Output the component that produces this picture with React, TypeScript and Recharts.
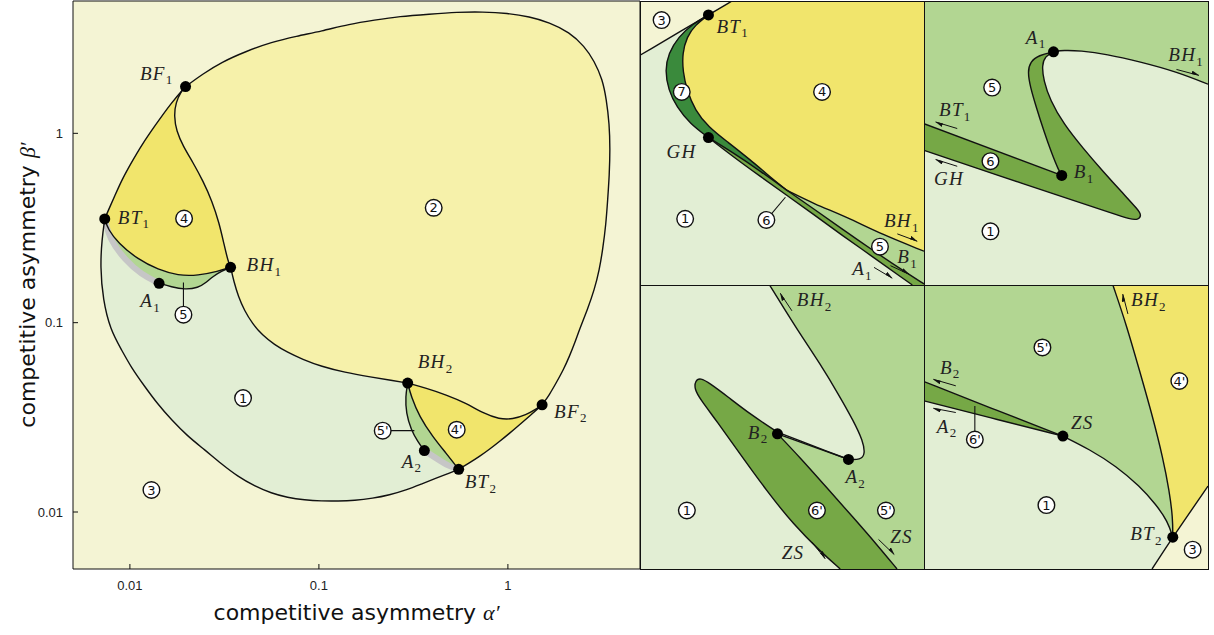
import React from "react";
import { ComposedChart, Line, Scatter, XAxis, YAxis } from "recharts";

type P = [number, number];
type Tone = "c1" | "c2" | "c3" | "c4" | "c5" | "c6" | "c7";

const PALETTE: Record<Tone, string> = {
  c1: "#e2eed4", // region 1
  c2: "#f6f1aa", // region 2
  c3: "#f4f4d4", // region 3
  c4: "#f1e56c", // region 4
  c5: "#b2d692", // region 5
  c6: "#76a846", // region 6
  c7: "#3a8a3c", // region 7
};
const GRAY = "#c6c6c6";
const INK = "#111";
const SANS = "'DejaVu Sans', sans-serif";
const TICK_FONT = "'Liberation Sans', Arial, sans-serif";
const SERIF = "'Liberation Serif', 'DejaVu Serif', serif";

// ---------- main diagram: alpha' vs beta' (log-log) ----------
const TICKS = [0.01, 0.1, 1];
const DOMAIN: [number, number] = [0.005, 5];

const BT1: P = [0.00736, 0.353];
const BF1: P = [0.0197, 1.767];
const BH1: P = [0.0341, 0.196];
const A1: P = [0.01427, 0.1614];
const BH2: P = [0.295, 0.048];
const BF2: P = [1.517, 0.0368];
const A2: P = [0.3615, 0.0211];
const BT2: P = [0.549, 0.0168];

const OUTER_LOW: P[] = [BT1, [0.00711, 0.2749], [0.00697, 0.198], [0.0072, 0.1323], [0.00788, 0.0918], [0.00902, 0.072],
  [0.01018, 0.0578], [0.01198, 0.046], [0.01398, 0.0373], [0.01658, 0.0307], [0.02015, 0.0252], [0.0249, 0.0213],
  [0.0305, 0.01795], [0.0374, 0.01537], [0.0456, 0.01373], [0.0561, 0.01256], [0.0681, 0.01193], [0.0841, 0.01157],
  [0.1031, 0.01143], [0.1264, 0.01143], [0.1541, 0.0115], [0.1927, 0.01181], [0.236, 0.0123], [0.2893, 0.01307],
  [0.3486, 0.01406], [0.4171, 0.01508], [0.4786, 0.0159], BT2];
const BT2_BF2: P[] = [BT2, [0.6256, 0.01816], [0.7067, 0.01962], [0.798, 0.02141], [0.9016, 0.02355], [1.018, 0.026],
  [1.15, 0.02886], [1.315, 0.0324], BF2];
const BF2_BF1: P[] = [BF2, [1.658, 0.0416], [1.799, 0.048], [1.967, 0.0564], [2.115, 0.0663], [2.262, 0.0784],
  [2.389, 0.0918], [2.634, 0.1172], [2.869, 0.1495], [3.049, 0.1907], [3.175, 0.2434], [3.301, 0.33], [3.373, 0.447],
  [3.443, 0.607], [3.473, 0.823], [3.443, 1.116], [3.321, 1.513], [3.162, 1.931], [2.869, 2.404], [2.54, 2.886],
  [2.115, 3.422], [1.658, 3.853], [1.3, 4.135], [0.994, 4.314], [0.736, 4.383], [0.54, 4.367], [0.3843, 4.262],
  [0.2667, 4.145], [0.1967, 3.963], [0.145, 3.774], [0.1031, 3.465], [0.076, 3.261], [0.0561, 3.03], [0.04135, 2.716],
  [0.0305, 2.375], [0.0242, 2.052], BF1];
const BF1_BT1: P[] = [BF1, [0.01658, 1.453], [0.01353, 1.093], [0.0116, 0.8745], [0.01018, 0.6998], [0.00909, 0.5708],
  [0.00831, 0.4661], [0.00772, 0.396], BT1];
const BF1_BH1: P[] = [BF1, [0.01873, 1.674], [0.01747, 1.453], [0.01713, 1.235], [0.01762, 1.028], [0.01912, 0.8566],
  [0.0216, 0.6998], [0.0244, 0.5593], [0.02722, 0.4383], [0.02965, 0.337], [0.0315, 0.2587], [0.03307, 0.211], BH1];
const BH1_BT1: P[] = [BH1, [0.02929, 0.1868], [0.02295, 0.1773], [0.01799, 0.1773], [0.0141, 0.1907], [0.01105, 0.2154],
  [0.00866, 0.2641], [0.00767, 0.3105], BT1];
const A1_BH1: P[] = [A1, [0.01658, 0.1545], [0.0195, 0.1495], [0.02295, 0.1526], [0.0254, 0.1634], [0.02755, 0.1758],
  [0.0305, 0.1868], BH1];
const BT1_A1: P[] = [BT1, [0.00782, 0.2749], [0.00939, 0.2154], [0.0115, 0.1795], A1];
const BH1_BH2: P[] = [BH1, [0.0355, 0.1648], [0.0375, 0.1373], [0.0404, 0.1157], [0.0445, 0.0988], [0.0502, 0.0859],
  [0.0582, 0.0765], [0.0681, 0.0698], [0.0818, 0.0641], [0.1031, 0.0587], [0.1364, 0.0547], [0.1896, 0.0516],
  [0.2419, 0.0496], BH2];
const BH2_BF2: P[] = [BH2, [0.3691, 0.0451], [0.471, 0.0416], [0.601, 0.0376], [0.736, 0.0333], [0.9016, 0.0309],
  [1.06, 0.0309], [1.248, 0.0326], [1.41, 0.0349], BF2];
const BH2_BT2: P[] = [BH2, [0.3075, 0.0408], [0.3402, 0.0319], [0.4, 0.025], [0.471, 0.02045], BT2];
const BH2_A2: P[] = [BH2, [0.287, 0.0408], [0.2893, 0.0333], [0.3075, 0.0272], [0.3333, 0.02355], A2];
const A2_BT2: P[] = [A2, [0.4171, 0.01923], [0.49, 0.01737], BT2];

const MAIN_MARKS = [
  { id: "BF1", at: BF1, name: "BF", sub: "1" },
  { id: "BT1", at: BT1, name: "BT", sub: "1" },
  { id: "BH1", at: BH1, name: "BH", sub: "1" },
  { id: "A1", at: A1, name: "A", sub: "1" },
  { id: "BH2", at: BH2, name: "BH", sub: "2" },
  { id: "BF2", at: BF2, name: "BF", sub: "2" },
  { id: "A2", at: A2, name: "A", sub: "2" },
  { id: "BT2", at: BT2, name: "BT", sub: "2" },
];
const MAIN_CIRCLES = [
  { n: "1", at: [0.0397, 0.04] as P },
  { n: "2", at: [0.405, 0.4045] as P },
  { n: "3", at: [0.013, 0.01307] as P },
  { n: "4", at: [0.01935, 0.355] as P },
  { n: "5", at: [0.0192, 0.1102] as P },
  { n: "4'", at: [0.536, 0.0272] as P },
  { n: "5'", at: [0.2176, 0.0269] as P },
];
const MAIN_LEADERS: P[][] = [
  [[0.0192, 0.1102], [0.0192, 0.1628]],
  [[0.2176, 0.0269], [0.32, 0.0269]],
];

// label placement relative to each marked point (px): dx, dy, anchor
const TAG_POS: Record<string, [number, number, string]> = {
  BF1: [-12, -7, "end"], BT1: [13, 5, "start"], BH1: [16, 4, "start"], A1: [2, 24, "end"],
  BH2: [10, -15, "start"], BF2: [12, 13, "start"], A2: [-2, 17, "end"], BT2: [6, 19, "start"],
  aBT1: [8, 18, "start"], aGH: [-12, 20, "end"], bA1: [-7, -8, "end"], bB1: [12, 3, "start"],
  cB2: [-9, 5, "end"], cA2: [-3, 24, "start"], dZS: [8, -7, "start"], dBT2: [-10, 3, "end"],
};

// ---------- zoomed panels (panel units 0..100) ----------
// panel A: around BT1
const A_BT1: P = [24.1, 95.1];
const A_GH: P = [24.1, 51.9];
const A_P: P = [51.8, 33.3];
const A_EDGE3: P[] = [[0, 80.9], A_BT1, [32.4, 100]];
const A_YEL_UP: P[] = [A_BT1, [19.4, 91.5], [16.5, 87.4], [14.9, 81.5], [15.1, 75.1], [16.5, 68.6], [19.4, 61.5],
  [24.1, 55.6], [30.8, 50.4], [38.8, 44.1], [45.9, 38.0], A_P];
const A_YEL_LOW: P[] = [A_P, [61.2, 28.6], [72.9, 23.9], [84.7, 18.0], [100, 11.9]];
const A_OUTER7: P[] = [A_BT1, [18.8, 92.1], [13.5, 87.4], [10.0, 81.5], [8.8, 75.6], [10.0, 68.6], [12.9, 62.7],
  [17.6, 56.8], A_GH];
const A_LU_UP: P[] = [A_GH, [32.9, 46.5], [42.4, 40.1], A_P];
const A_LU_LOW: P[] = [A_P, [61.2, 26.8], [70.6, 20.1], [82.4, 11.9], [94.1, 4.1], [100, 0.4]];
const A_LL: P[] = [A_GH, [32.9, 45.1], [42.4, 38.2], [51.8, 31.5], [61.2, 24.8], [70.6, 17.9], [82.4, 9.6],
  [92.9, 2.1], [95.9, 0]];

// panel B: around A1 / B1
const B_A1: P = [45.6, 82.1];
const B_B1: P = [48.5, 38.6];
const B_BH1: P[] = [B_A1, [49.1, 82.7], [55.0, 82.5], [64.3, 81.3], [76.0, 78.6], [88.9, 75.1], [100, 70.7]];
const B_OUTER: P[] = [B_A1, [40.4, 80.9], [37.4, 78.6], [36.5, 75.1], [37.4, 69.8], [39.5, 62.7], [42.1, 54.5],
  [45.0, 46.2], [47.4, 40.4], B_B1];
const B_BT1: P[] = [B_B1, [0, 56.8]];
const B_HOOK: P[] = [B_A1, [42.7, 80.6], [41.5, 77.4], [42.1, 72.1], [44.4, 65.1], [49.1, 56.8], [56.1, 48.0],
  [63.2, 39.8], [70.2, 32.1], [75.4, 26.5], [76.6, 24.5], [75.4, 22.9], [72.5, 23.2], [66.7, 25.1], [52.6, 29.8],
  [35.1, 35.6], [17.5, 41.5], [0, 47.4]];

// panel C: around B2 / A2
const C_B2: P = [48.4, 47.6];
const C_A2: P = [73.4, 38.6];
const C_BH2: P[] = [[45.6, 100], [50.5, 92.1], [56.4, 82.7], [63.5, 72.1], [69.9, 61.5], [75.2, 52.1], [78.5, 45.1],
  [79.3, 40.4], [77.6, 38.4], C_A2];
const C_TOP_A: P[] = [C_A2, [65.8, 41.5], [56.4, 45.1], [48.4, 48.2]];
const C_TOP_B: P[] = [[48.4, 48.2], [38.8, 54.5], [30.6, 60.9], [24.7, 65.3], [21.2, 67.4], [19.4, 66.2], [19.2, 63.3],
  [21.2, 59.8], [27.0, 52.1], [35.3, 40.4], [44.7, 27.4], [54.1, 15.6], [63.5, 6.2], [70.5, 0]];
const C_RIGHT: P[] = [C_B2, [56.4, 39.2], [65.8, 28.6], [75.2, 18.0], [83.4, 8.6], [90.5, 0]];
const C_CHORD: P[] = [C_B2, C_A2];

// panel D: around ZS / BT2
const D_ZS: P = [48.9, 46.8];
const D_BT2: P = [87.6, 11.2];
const D_B2L: P[] = [[0, 66.0], [23.2, 56.8], D_ZS];
const D_A2L: P[] = [[0, 59.2], [23.2, 53.3], D_ZS];
const D_ZSC: P[] = [D_ZS, [58.3, 42.1], [67.7, 36.2], [75.9, 29.2], [81.7, 22.7], [85.8, 16.8], D_BT2];
const D_BH2: P[] = [[66.5, 100], [71.2, 86.2], [75.9, 69.8], [80.6, 53.3], [84.1, 39.2], [86.4, 27.4], [87.6, 18.0], D_BT2];
const D_EDGE3: P[] = [[100, 29.2], D_BT2, [80.3, 0]];

const FULL: P[] = [[0, 0], [100, 0], [100, 100], [0, 100]];
const rev = (pts: P[]) => [...pts].reverse();
const rows = (pts: P[]) => pts.map(([x, y]) => ({ x, y }));
// joins boundary pieces; a shared end point is repeated so the B-spline keeps the corner
const chain = (segs: P[][]): P[] => {
  const out: P[] = [];
  segs.forEach((s) => {
    const last = out[out.length - 1];
    if (last && last[0] === s[0][0] && last[1] === s[0][1]) out.push(s[0]);
    out.push(...s);
  });
  return out;
};

type Region = { segs: P[][]; tone: Tone; straight?: boolean };

const INSETS = [
  {
    id: "a", left: 640, top: 1,
    fills: [
      { segs: [FULL], tone: "c1", straight: true },
      { segs: [[[0, 80.9], A_BT1, [32.4, 100], [0, 100]]], tone: "c3", straight: true },
      { segs: [[A_BT1, [32.4, 100]], [[32.4, 100], [100, 100]], [[100, 100], [100, 11.9]], rev(A_YEL_LOW), rev(A_YEL_UP)], tone: "c4" },
      { segs: [A_OUTER7, A_LU_UP, rev(A_YEL_UP)], tone: "c7" },
      { segs: [A_LU_UP, A_LU_LOW, [[100, 0.4], [100, 0]], [[100, 0], [95.9, 0]], rev(A_LL)], tone: "c6" },
      { segs: [A_LU_LOW, [[100, 0.4], [100, 11.9]], rev(A_YEL_LOW)], tone: "c5" },
    ] as Region[],
    edges: [A_EDGE3, A_YEL_UP, A_YEL_LOW, A_OUTER7, A_LU_UP, A_LU_LOW, A_LL],
    arrows: [[[90.6, 18.0], [97.6, 15.4]], [[88.2, 6.8], [94.7, 3.8]], [[82.4, 6.2], [88.8, 2.4]]] as P[][],
    leaders: [[[44.5, 22.9], [51.2, 30.9]]] as P[][],
    marks: [{ id: "aBT1", at: A_BT1, name: "BT", sub: "1" }, { id: "aGH", at: A_GH, name: "GH", sub: "" }],
    tags: [{ at: [85.9, 20.4] as P, name: "BH", sub: "1" }, { at: [90.6, 7.6] as P, name: "B", sub: "1" },
      { at: [74.7, 3.4] as P, name: "A", sub: "1" }],
    circles: [{ n: "3", at: [7.6, 93.3] as P }, { n: "7", at: [14.7, 68.0] as P }, { n: "4", at: [64.1, 68.0] as P },
      { n: "1", at: [15.9, 23.3] as P }, { n: "6", at: [44.5, 22.9] as P }, { n: "5", at: [84.5, 13.5] as P }],
  },
  {
    id: "b", left: 924, top: 1,
    fills: [
      { segs: [FULL], tone: "c1", straight: true },
      { segs: [[[0, 100], [100, 100]], [[100, 100], [100, 70.7]], rev(B_BH1), B_OUTER, B_BT1, [[0, 56.8], [0, 100]]], tone: "c5" },
      { segs: [rev(B_BT1), rev(B_OUTER), B_HOOK, [[0, 47.4], [0, 56.8]]], tone: "c6" },
    ] as Region[],
    edges: [B_BH1, B_OUTER, B_BT1, B_HOOK],
    arrows: [[[88.9, 75.9], [96.8, 73.8]], [[11.7, 55.1], [4.1, 57.4]], [[11.7, 41.8], [4.1, 44.2]]] as P[][],
    leaders: [] as P[][],
    marks: [{ id: "bA1", at: B_A1, name: "A", sub: "1" }, { id: "bB1", at: B_B1, name: "B", sub: "1" }],
    tags: [{ at: [86.0, 78.8] as P, name: "BH", sub: "1" }, { at: [5.3, 59.5] as P, name: "BT", sub: "1" },
      { at: [3.5, 35.3] as P, name: "GH", sub: "" }],
    circles: [{ n: "5", at: [24.0, 69.5] as P }, { n: "6", at: [23.4, 43.6] as P }, { n: "1", at: [23.4, 18.9] as P }],
  },
  {
    id: "c", left: 640, top: 285,
    fills: [
      { segs: [FULL], tone: "c1", straight: true },
      { segs: [[[45.6, 100], [100, 100]], [[100, 100], [100, 0]], [[100, 0], [90.5, 0]], rev(C_RIGHT), C_CHORD, rev(C_BH2)], tone: "c5" },
      { segs: [C_TOP_B, [[70.5, 0], [90.5, 0]], rev(C_RIGHT), [C_B2, [48.4, 48.2]]], tone: "c6" },
    ] as Region[],
    edges: [C_BH2, C_TOP_A, C_TOP_B, C_RIGHT, C_CHORD],
    arrows: [[[53.5, 90.9], [49.4, 97.1]], [[60.5, 9.5], [65.2, 3.6]], [[84.0, 10.4], [89.5, 5.1]]] as P[][],
    leaders: [] as P[][],
    marks: [{ id: "cB2", at: C_B2, name: "B", sub: "2" }, { id: "cA2", at: C_A2, name: "A", sub: "2" }],
    tags: [{ at: [55.2, 92.5] as P, name: "BH", sub: "2" }, { at: [49.9, 3.5] as P, name: "ZS", sub: "" },
      { at: [88.1, 9.0] as P, name: "ZS", sub: "" }],
    circles: [{ n: "1", at: [16.5, 20.6] as P }, { n: "6'", at: [62.3, 20.6] as P }, { n: "5'", at: [86.6, 20.6] as P }],
  },
  {
    id: "d", left: 924, top: 285,
    fills: [
      { segs: [FULL], tone: "c1", straight: true },
      { segs: [[[0, 100], [66.5, 100]], D_BH2, rev(D_ZSC), rev(D_B2L), [[0, 66.0], [0, 100]]], tone: "c5" },
      { segs: [[[66.5, 100], [100, 100]], [[100, 100], [100, 29.2]], [[100, 29.2], D_BT2], rev(D_BH2)], tone: "c4" },
      { segs: [[[100, 29.2], [100, 0], [80.3, 0], D_BT2]], tone: "c3", straight: true },
      { segs: [D_B2L, rev(D_A2L), [[0, 59.2], [0, 66.0]]], tone: "c6" },
    ] as Region[],
    edges: [D_B2L, D_A2L, D_ZSC, D_BH2, D_EDGE3],
    arrows: [[[11.2, 64.5], [3.3, 66.8]], [[11.2, 55.1], [3.3, 56.6]], [[71.8, 89.8], [70.0, 96.8]]] as P[][],
    leaders: [[[17.9, 45.6], [17.9, 57.4]]] as P[][],
    marks: [{ id: "dZS", at: D_ZS, name: "ZS", sub: "" }, { id: "dBT2", at: D_BT2, name: "BT", sub: "2" }],
    tags: [{ at: [5.6, 68.8] as P, name: "B", sub: "2" }, { at: [4.5, 48.0] as P, name: "A", sub: "2" },
      { at: [72.9, 92.5] as P, name: "BH", sub: "2" }],
    circles: [{ n: "5'", at: [41.7, 78.0] as P }, { n: "4'", at: [89.9, 66.2] as P }, { n: "6'", at: [17.9, 45.6] as P },
      { n: "1", at: [43.1, 22.5] as P }, { n: "3", at: [94.6, 6.8] as P }],
  },
];

const FILL_CSS = (Object.keys(PALETTE) as Tone[])
  .map((k) => `.fill-${k} path{fill:${PALETTE[k]};}`).join("\n");

// ---------- series helpers ----------
const poly = (key: string, r: Region) => (
  <Line key={key} data={rows(chain(r.segs))} dataKey="y" type={r.straight ? "linear" : "basis"}
    className={`fill-${r.tone}`} stroke="none" dot={false} activeDot={false} legendType="none" isAnimationActive={false} />
);
const edge = (key: string, pts: P[], color = INK, width = 1.4) => (
  <Line key={key} data={rows(pts)} dataKey="y" type="basis" stroke={color} strokeWidth={width}
    strokeLinejoin="round" dot={false} activeDot={false} legendType="none" isAnimationActive={false} />
);
const arrow = (key: string, pts: P[], marker: string) => (
  <Line key={key} data={rows(pts)} dataKey="y" type="linear" stroke={INK} strokeWidth={1}
    markerEnd={`url(#${marker})`} dot={false} activeDot={false} legendType="none" isAnimationActive={false} />
);

function labelText(x: number, y: number, anchor: string, name: string, sub: string) {
  return (
    <text x={x} y={y} textAnchor={anchor} fontFamily={SERIF} fontSize={19} fill="#222" letterSpacing={1.3}>
      <tspan fontStyle="italic">{name}</tspan>
      {sub ? <tspan fontSize={13} dy={4.5}>{sub}</tspan> : null}
    </text>
  );
}

const markShape = (p: any) => {
  const d = p.payload;
  const [dx, dy, anchor] = TAG_POS[d.id] ?? [0, 0, "start"];
  return (
    <g>
      <circle cx={p.cx} cy={p.cy} r={5.5} fill="#000" />
      {labelText(p.cx + dx, p.cy + dy, anchor, d.name, d.sub)}
    </g>
  );
};
const tagShape = (p: any) => labelText(p.cx, p.cy, "start", p.payload.name, p.payload.sub);
const circleShape = (p: any) => (
  <g>
    <circle cx={p.cx} cy={p.cy} r={8.3} fill="#fff" stroke={INK} strokeWidth={1.4} />
    <text x={p.cx} y={p.cy + 4.6} textAnchor="middle" fontFamily={SANS} fontSize={13} fill={INK}>
      {p.payload.n}
    </text>
  </g>
);

const markRows = (list: { id?: string; at: P; name: string; sub: string }[]) =>
  list.map((m) => ({ x: m.at[0], y: m.at[1], id: m.id, name: m.name, sub: m.sub }));
const circleRows = (list: { n: string; at: P }[]) => list.map((c) => ({ x: c.at[0], y: c.at[1], n: c.n }));

const Harpoon = ({ id }: { id: string }) => (
  <defs>
    <marker id={id} markerWidth={8} markerHeight={6} refX={7.5} refY={3} orient="auto" markerUnits="userSpaceOnUse">
      <path d="M0,0 L8,3 L0,3.6 Z" fill={INK} />
    </marker>
  </defs>
);

const XTitle = (props: any) => {
  const vb = props.viewBox;
  return (
    <text x={vb.x + vb.width / 2} y={vb.y + 51} textAnchor="middle" fontFamily={SANS} fontSize={22} fill={INK}>
      competitive asymmetry{" "}
      <tspan fontFamily={SERIF} fontStyle="italic">α′</tspan>
    </text>
  );
};
const YTitle = (props: any) => {
  const vb = props.viewBox;
  const cx = vb.x + 35;
  const cy = vb.y + vb.height / 2;
  return (
    <text x={cx} y={cy} transform={`rotate(-90, ${cx}, ${cy})`} textAnchor="middle" fontFamily={SANS} fontSize={22} fill={INK}>
      competitive asymmetry{" "}
      <tspan fontFamily={SERIF} fontStyle="italic">β′</tspan>
    </text>
  );
};

function MainChart() {
  const logAxis = { type: "number" as const, scale: "log" as const, domain: DOMAIN, allowDataOverflow: true, ticks: TICKS, interval: 0 as const };
  const BOX: P[] = [[DOMAIN[0], DOMAIN[0]], [DOMAIN[1], DOMAIN[0]], [DOMAIN[1], DOMAIN[1]], [DOMAIN[0], DOMAIN[1]]];
  const regions: Region[] = [
    { segs: [BOX], tone: "c3", straight: true },
    { segs: [OUTER_LOW, BT2_BF2, BF2_BF1, BF1_BT1], tone: "c2" },
    { segs: [OUTER_LOW, rev(A2_BT2), rev(BH2_A2), rev(BH1_BH2), rev(A1_BH1), rev(BT1_A1)], tone: "c1" },
    { segs: [rev(BF1_BT1), BF1_BH1, BH1_BT1], tone: "c4" },
    { segs: [rev(BH1_BT1), rev(A1_BH1), rev(BT1_A1)], tone: "c5" },
    { segs: [BH2_BF2, rev(BT2_BF2), rev(BH2_BT2)], tone: "c4" },
    { segs: [BH2_BT2, rev(A2_BT2), rev(BH2_A2)], tone: "c5" },
  ];
  return (
    <ComposedChart width={641} height={635} margin={{ top: 0, right: 0, bottom: 0, left: 0 }}>
      {regions.map((r, i) => poly(`r${i}`, r))}
      {edge("g1", BT1_A1, GRAY, 6)}
      {edge("g2", A2_BT2, GRAY, 6)}
      {[OUTER_LOW, BT2_BF2, BF2_BF1, BF1_BT1, BF1_BH1, BH1_BT1, A1_BH1, BH1_BH2, BH2_BF2, BH2_BT2, BH2_A2].map((s, i) =>
        edge(`e${i}`, s))}
      {MAIN_LEADERS.map((s, i) => edge(`l${i}`, s, INK, 1.1))}
      <XAxis {...logAxis} dataKey="x" height={66} tickSize={-5} tickMargin={17} stroke={INK}
        tick={{ fill: "#222", fontSize: 13, fontFamily: TICK_FONT }} label={<XTitle />} />
      <XAxis {...logAxis} xAxisId="top" orientation="top" dataKey="x" height={1} tickSize={-5} tick={false} stroke={INK} />
      <YAxis {...logAxis} dataKey="y" width={73} tickSize={-5} tickMargin={15} stroke={INK}
        tick={{ fill: "#222", fontSize: 13, fontFamily: TICK_FONT }} label={<YTitle />} />
      <YAxis {...logAxis} yAxisId="right" orientation="right" dataKey="y" width={1} tickSize={-5} tick={false} stroke={INK} />
      <Scatter data={circleRows(MAIN_CIRCLES)} shape={circleShape} isAnimationActive={false} legendType="none" />
      <Scatter data={markRows(MAIN_MARKS)} shape={markShape} isAnimationActive={false} legendType="none" />
    </ComposedChart>
  );
}

function Inset({ spec }: { spec: (typeof INSETS)[number] }) {
  const marker = `harpoon-${spec.id}`;
  return (
    <ComposedChart width={284} height={284} margin={{ top: 0, right: 0, bottom: 0, left: 0 }}>
      <Harpoon id={marker} />
      <XAxis type="number" dataKey="x" domain={[0, 100]} allowDataOverflow hide />
      <YAxis type="number" dataKey="y" domain={[0, 100]} allowDataOverflow hide />
      {spec.fills.map((r, i) => poly(`${spec.id}f${i}`, r))}
      {spec.edges.map((s, i) => edge(`${spec.id}e${i}`, s))}
      {spec.leaders.map((s, i) => edge(`${spec.id}l${i}`, s, INK, 1.1))}
      {spec.arrows.map((s, i) => arrow(`${spec.id}a${i}`, s, marker))}
      <Scatter data={circleRows(spec.circles)} shape={circleShape} isAnimationActive={false} legendType="none" />
      <Scatter data={markRows(spec.marks)} shape={markShape} isAnimationActive={false} legendType="none" />
      <Scatter data={markRows(spec.tags)} shape={tagShape} isAnimationActive={false} legendType="none" />
    </ComposedChart>
  );
}

export default function App() {
  return (
    <div style={{ position: "absolute", left: 0, top: 0, width: 1214, height: 635, background: "#fff" }}>
      <style>{FILL_CSS}</style>
      <div style={{ position: "absolute", left: 0, top: 0 }}>
        <MainChart />
      </div>
      {INSETS.map((s) => (
        <div key={s.id} style={{ position: "absolute", left: s.left, top: s.top, width: 284, height: 284 }}>
          <Inset spec={s} />
          <div style={{ position: "absolute", left: 0, top: 0, width: 285, height: 285, boxSizing: "border-box",
            border: `1.2px solid ${INK}`, pointerEvents: "none" }} />
        </div>
      ))}
    </div>
  );
}
